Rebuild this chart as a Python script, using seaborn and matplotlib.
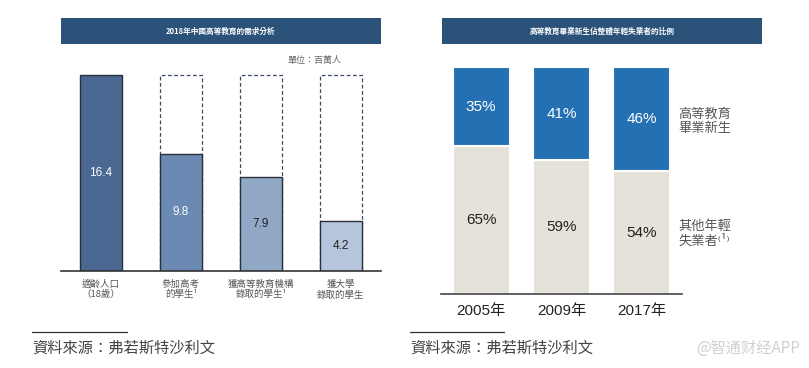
import matplotlib
matplotlib.use("Agg")
import matplotlib.pyplot as plt
from matplotlib.patches import Rectangle
import seaborn as sns
import pandas as pd

# left chart: 2018 demand for higher education (millions)
demand_cats = ['適齡人口\n（18歲）', '參加高考\n的學生¹', '獲高等教育機構\n錄取的學生¹', '獲大學\n錄取的學生']
demand_vals = [16.4, 9.8, 7.9, 4.2]
demand_colors = ['#4b6892', '#6a8ab3', '#91a8c7', '#b6c5db']
demand_text = ['white', 'white', '#222222', '#222222']

# right chart: share of young unemployed
years = ['2005年', '2009年', '2017年']
grad_share = [35, 41, 46]
other_share = [65, 59, 54]

sns.set_theme(style='white')
plt.rcParams['font.family'] = ['Noto Sans CJK TC', 'DejaVu Sans']
num_font = ['Liberation Sans', 'Noto Sans CJK TC']

W, H = 809, 368
fig = plt.figure(figsize=(W / 100, H / 100), dpi=100)

def px_axes(x0, y0, x1, y1):
    # pixel box (top-left origin) -> figure axes
    return fig.add_axes([x0 / W, 1 - y1 / H, (x1 - x0) / W, (y1 - y0) / H])

def header(x0, x1, text):
    fig.add_artist(Rectangle((x0 / W, 1 - 44 / H), (x1 - x0) / W, 26 / H,
                             transform=fig.transFigure, color='#2b5279', lw=0))
    fig.text((x0 + x1) / 2 / W, 1 - 31 / H, text, color='white', fontsize=5.5,
             fontweight='bold', ha='center', va='center')

# ---- left panel
header(61, 381, '2018年中國高等教育的需求分析')
ax1 = px_axes(61, 55, 381, 271)
df1 = pd.DataFrame({'cat': demand_cats, 'val': demand_vals})
top = max(demand_vals)
ax1.bar(range(1, 4), [top] * 3, width=0.525, fill=False, edgecolor='#3a4a66',
        linestyle=(0, (3, 2)), linewidth=0.9)
sns.barplot(data=df1, x='cat', y='val', hue='cat', palette=demand_colors, legend=False,
            width=0.525, edgecolor='#2a2f3a', linewidth=1.0, saturation=1, ax=ax1)
ax1.set_ylim(0, top * 216 / 196)
ax1.set_xlim(-0.5, 3.5)
for i, v in enumerate(demand_vals):
    ax1.text(i, v / 2, f'{v}', ha='center', va='center', color=demand_text[i],
             fontsize=8.5, family=num_font)
ax1.set_xlabel('')
ax1.set_ylabel('')
ax1.set_yticks([])
ax1.tick_params(axis='x', length=0, labelsize=6.8, labelcolor='#555555', pad=6)
for s in ['top', 'right', 'left']:
    ax1.spines[s].set_visible(False)
ax1.spines['bottom'].set_color('#333333')
ax1.spines['bottom'].set_linewidth(1.2)
fig.text(341 / W, 1 - 61 / H, '單位：百萬人', fontsize=6.5, color='#666666',
         ha='right', va='center')

# ---- right panel
header(442, 762, '高等教育畢業新生佔整體年輕失業者的比例')
ax2 = px_axes(441, 60, 682, 294)
df2 = pd.DataFrame({'year': years, 'grad': grad_share, 'other': other_share})
df2['total'] = df2['grad'] + df2['other']
sns.barplot(data=df2, x='year', y='total', color='#2470b3', width=0.71, saturation=1,
            edgecolor='white', linewidth=1.5, ax=ax2)
sns.barplot(data=df2, x='year', y='other', color='#e5e2d9', width=0.71, saturation=1,
            edgecolor='white', linewidth=1.5, ax=ax2)
ax2.set_ylim(0, 100 * 234 / 227)
ax2.set_xlim(-0.5, 2.5)
for i in range(len(years)):
    ax2.text(i, other_share[i] + grad_share[i] / 2, f'{grad_share[i]}%', ha='center',
             va='center', color='white', fontsize=11, family=num_font)
    ax2.text(i, other_share[i] / 2, f'{other_share[i]}%', ha='center', va='center',
             color='#222222', fontsize=11, family=num_font)
ax2.set_xlabel('')
ax2.set_ylabel('')
ax2.set_yticks([])
ax2.tick_params(axis='x', length=0, labelsize=11, labelcolor='#222222', pad=7)
for lab in ax2.get_xticklabels():
    lab.set_family(num_font)
for s in ['top', 'right', 'left']:
    ax2.spines[s].set_visible(False)
ax2.spines['bottom'].set_color('#444444')
ax2.spines['bottom'].set_linewidth(1.2)
fig.text(678 / W, 1 - 121 / H, '高等教育\n畢業新生', fontsize=9.5, color='#555555',
         ha='left', va='center', linespacing=1.1)
fig.text(678 / W, 1 - 234 / H, '其他年輕\n失業者⁽¹⁾', fontsize=9.5, color='#555555',
         ha='left', va='center', linespacing=1.1)

# ---- source lines
for x0, x1 in [(32, 127), (410, 504)]:
    fig.add_artist(plt.Line2D([x0 / W, x1 / W], [1 - 332 / H] * 2, color='#333333', lw=0.9))
    fig.text(x0 / W, 1 - 348 / H, '資料來源：弗若斯特沙利文', fontsize=11,
             color='#444444', ha='left', va='center')
fig.text(800 / W, 1 - 348 / H, '@智通财经APP', fontsize=11, color='#d0d0d0',
         ha='right', va='center', family=['Noto Sans CJK SC', 'DejaVu Sans'])

fig.savefig('out.png', dpi=100)
